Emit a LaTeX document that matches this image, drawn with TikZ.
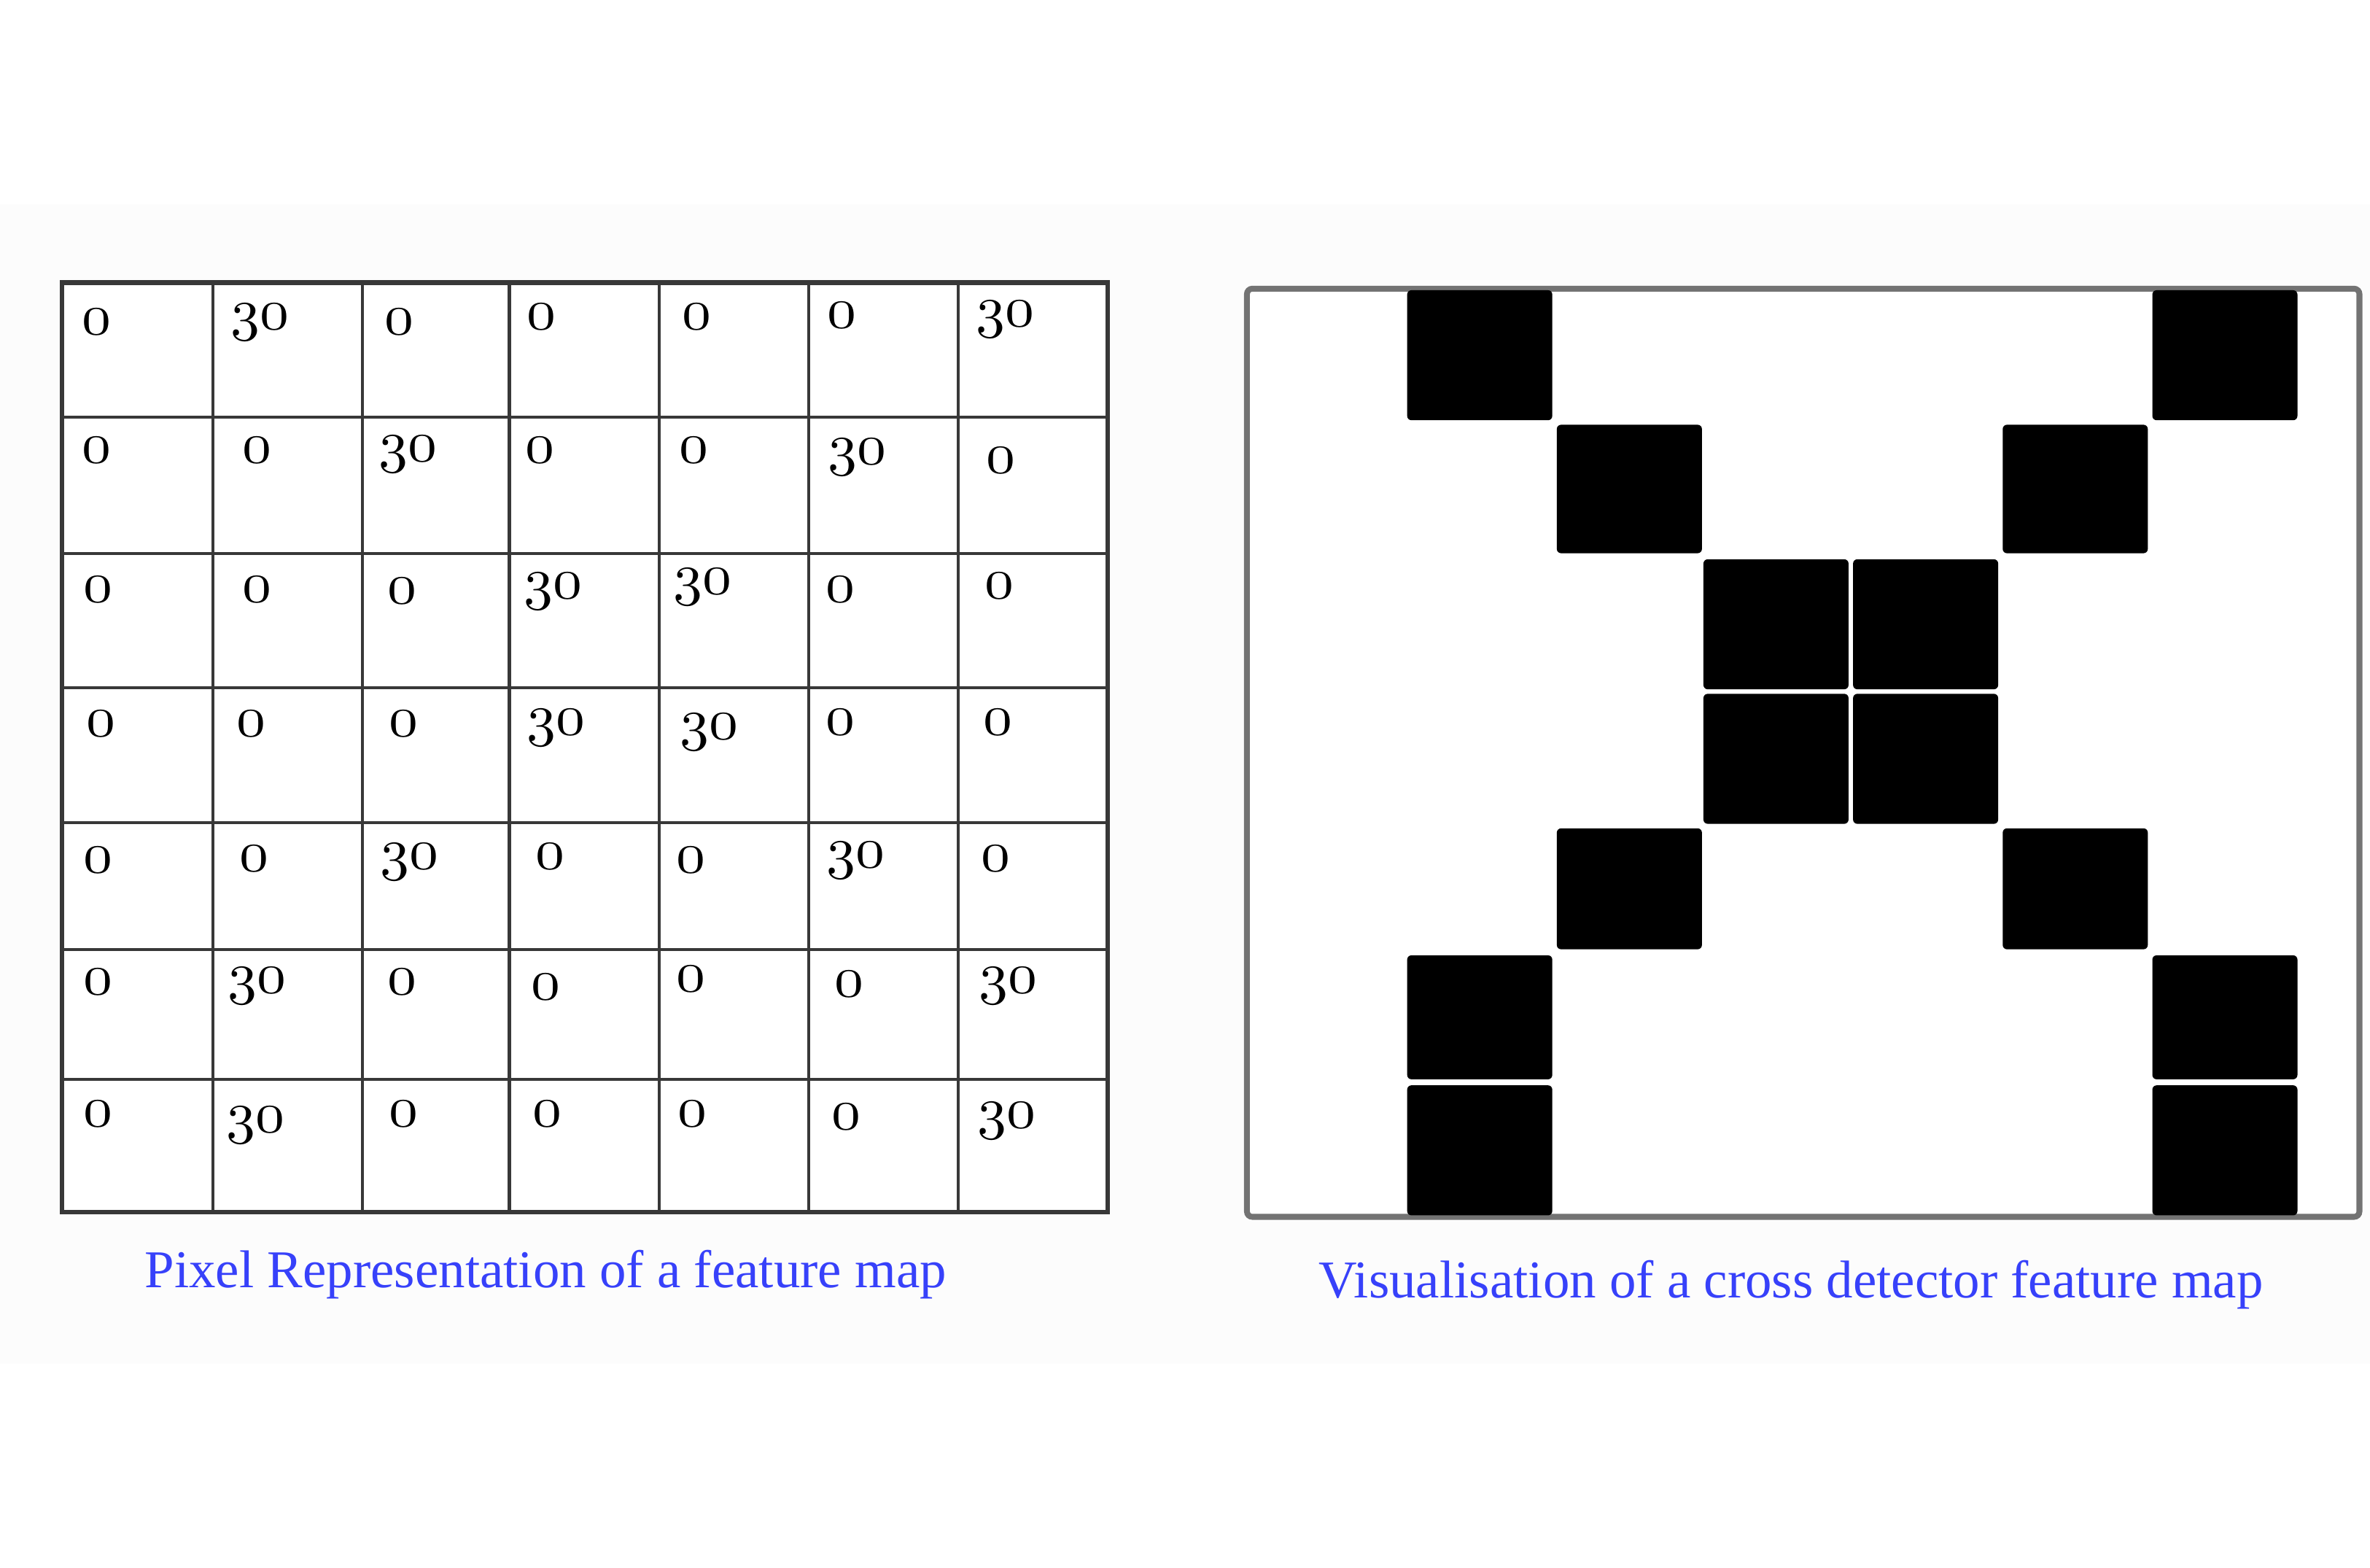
\documentclass[tikz,border=0pt]{standalone}
\usepackage{fontspec}
\newfontfamily\capfont{Liberation Serif}
\definecolor{capblue}{RGB}{55,65,250}
\newcommand\osnum[1]{{\fontsize{11}{13}\usefont{OML}{cmm}{m}{it}#1}}

\tikzset{
    gridline/.style={draw=black!78, line width=0.55pt},
    outline/.style={draw=black!78, line width=0.85pt, fill=white},
    frameline/.style={draw=black!55, line width=1.1pt, rounded corners=1pt, fill=white},
    pixel/.style={fill=black, rounded corners=0.8pt},
    num/.style={anchor=mid, inner sep=0pt, yshift=-0.25mm},
    caption/.style={font=\capfont, text=capblue, inner sep=0pt}
}

\begin{document}
\begin{tikzpicture}[x=0.01cm, y=-0.01cm]
        \useasboundingbox (0,0) rectangle (1568,1037);
        \fill[black!1] (0,135) rectangle (1568,902);

        % pixel grid
        \draw[outline] (41,187) rectangle (733,802);
        \foreach \gx in {141,240,337,436,535,634}
            \draw[gridline] (\gx,187) -- (\gx,802);
        \foreach \gy in {276,366,455,544,628,714}
            \draw[gridline] (41,\gy) -- (733,\gy);

        \foreach \x/\y/\v [count=\i] in {
            64/211/0, 172/208/30, 264/211/0, 358/208/0, 461/208/0, 557/207/0, 665/206/30,
            64/296/0, 170/296/0, 270/295/30, 357/296/0, 459/296/0, 567/297/30, 662/303/0,
            65/388/0, 170/388/0, 266/389/0, 366/386/30, 465/383/30, 556/388/0, 661/386/0,
            67/477/0, 166/477/0, 267/477/0, 368/476/30, 469/479/30, 556/476/0, 660/476/0,
            65/567/0, 168/566/0, 271/565/30, 364/565/0, 457/567/0, 566/564/30, 659/566/0,
            65/648/0, 170/647/30, 266/648/0, 361/651/0, 457/646/0, 562/649/0, 667/647/30,
            65/735/0, 169/739/30, 267/735/0, 362/735/0, 458/735/0, 560/737/0, 666/736/30}
            \node[num] (n\i) at (\x,\y) {\osnum{\v}};

        % cross detector
        \draw[frameline] (825,191) rectangle (1561,805);
        \foreach \x/\t/\b in {
            931/192/278, 1424/192/278,
            1030/281/366, 1325/281/366,
            1127/370/456, 1226/370/456,
            1127/459/545, 1226/459/545,
            1030/548/628, 1325/548/628,
            931/632/714, 1424/632/714,
            931/718/804, 1424/718/804}
            \fill[pixel] (\x,\t) rectangle (\x+96,\b);

        \node[caption] (capL) at (361,843) {Pixel Representation of a feature map};
        \node[caption] (capR) at (1185,850) {Visualisation of a cross detector feature map};
\end{tikzpicture}
\end{document}
